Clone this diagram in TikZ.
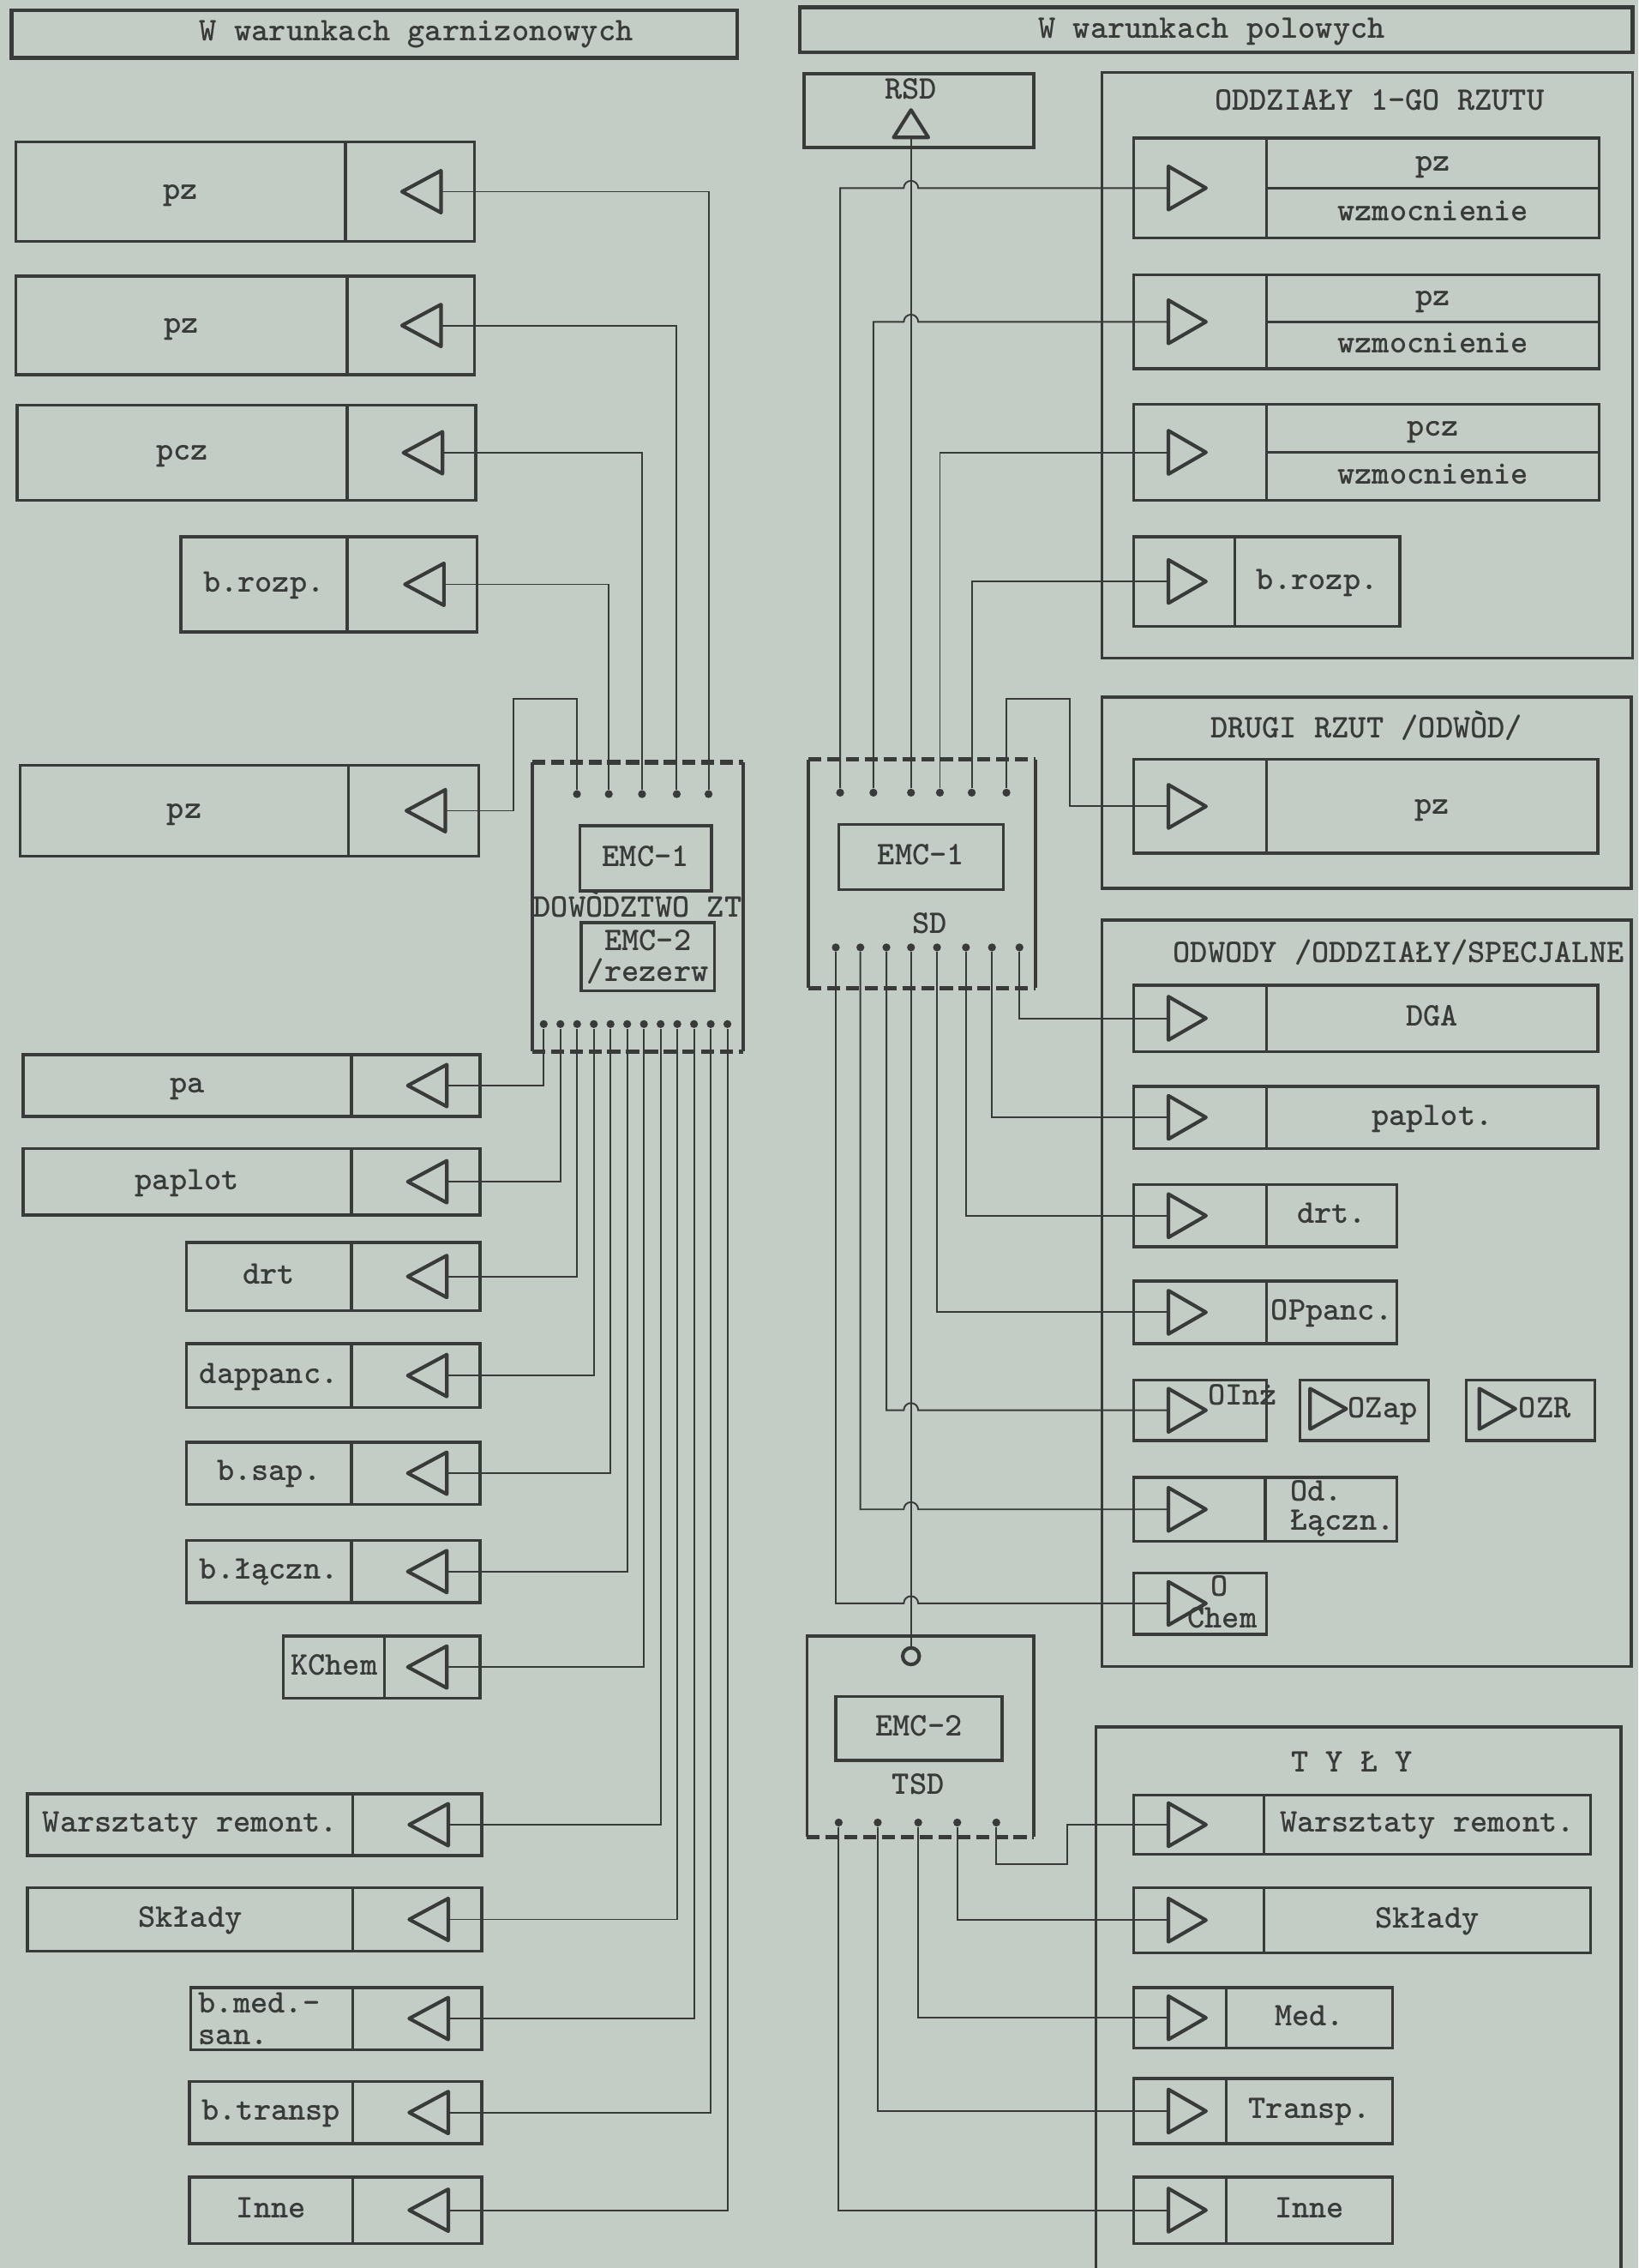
\documentclass[tikz,border=0pt]{standalone}
\usetikzlibrary{calc}
\definecolor{SchemPaper}{HTML}{C3CCC5}
\definecolor{SchemInk}{HTML}{383B39}
\newcommand{\lblfont}{\fontsize{13}{13}\selectfont\ttfamily\bfseries}
\tikzset{
  boxline/.style={draw=SchemInk,line width=1.2pt},
  wire/.style={draw=SchemInk,line width=0.65pt},
  tri/.style={draw=SchemInk,line width=1.4pt,line join=round},
  busedge/.style={draw=SchemInk,line width=1.7pt,dash pattern=on 1.8mm off 0.8mm},
  pin/.style={circle,fill=SchemInk,inner sep=0pt,minimum size=1.1mm},
  lbl/.style={text=SchemInk,font=\lblfont,inner sep=0pt,text height=8pt,text depth=2pt},
  lbltwo/.style={text=SchemInk,font=\lblfont,inner sep=0pt,align=left},
}
% left unit: name, x left, y top, y bottom, x divider, x right, label
\newcommand{\garbox}[7]{%
  \draw[boxline] (#2,#3) rectangle (#6,#4);
  \draw[boxline] (#5,#3) -- (#5,#4);
  \node[lbl] (#1-t) at ({(#2+#5)/2},{(#3+#4)/2}) {#7};
  \draw[tri] ({#6-50},{(#3+#4)/2}) -- ++(27,-14.5) -- ++(0,29) -- cycle;
  \coordinate (#1) at ({#6-23},{(#3+#4)/2});
}
% right unit: name, y top, y bottom, x divider, x right, label
\newcommand{\polbox}[6]{%
  \draw[boxline] (784,#2) rectangle (#5,#3);
  \draw[boxline] (#4,#2) -- (#4,#3);
  \node[lbl] (#1-t) at ({(#4+#5)/2},{(#2+#3)/2}) {#6};
  \draw[tri] (834,{(#2+#3)/2}) -- ++(-26,-15) -- ++(0,30) -- cycle;
  \coordinate (#1) at (808,{(#2+#3)/2});
}
% right unit with two rows
\newcommand{\polboxii}[5]{%
  \polbox{#1}{#2}{#3}{876}{1106}{}
  \draw[boxline] (876,{(#2+#3)/2}) -- (1106,{(#2+#3)/2});
  \node[lbl] (#1-a) at (991,{(3*#2+#3)/4}) {#4};
  \node[lbl] (#1-b) at (991,{(#2+3*#3)/4}) {#5};
}

\begin{document}
\begin{tikzpicture}[x=0.02cm,y=-0.02cm]
        \fill[SchemPaper] (0,0) rectangle (1133,1568);
        \useasboundingbox (0,0) rectangle (1133,1568);

        % headers
        \draw[boxline,line width=1.4pt] (8,7) rectangle (510,40);
        \node[lbl] (hdr-gar) at (288,23) {W warunkach garnizonowych};
        \draw[boxline,line width=1.4pt] (553,5) rectangle (1129,36);
        \node[lbl] (hdr-pol) at (838,21) {W warunkach polowych};

        % garrison side
        \garbox{g1}{11}{98}{167}{239}{328}{pz}
        \garbox{g2}{11}{191}{259}{240}{328}{pz}
        \garbox{g3}{12}{280}{346}{240}{329}{pcz}
        \garbox{g4}{125}{371}{437}{240}{330}{b.rozp.}
        \garbox{g5}{14}{529}{592}{241}{331}{pz}
        \garbox{g6}{16}{729}{772}{243}{332}{pa}
        \garbox{g7}{16}{794}{840}{243}{332}{paplot}
        \garbox{g8}{129}{859}{906}{243}{332}{drt}
        \garbox{g9}{129}{929}{973}{243}{332}{dappanc.}
        \garbox{g10}{129}{997}{1040}{243}{332}{b.sap.}
        \garbox{g11}{129}{1065}{1108}{243}{332}{b.łączn.}
        \garbox{g12}{196}{1131}{1174}{266}{332}{KChem}
        \garbox{g13}{19}{1240}{1283}{244}{333}{Warsztaty remont.}
        \garbox{g14}{19}{1305}{1349}{244}{333}{Składy}
        \garbox{g15}{132}{1374}{1417}{244}{333}{}
        \node[lbltwo,anchor=west] (g15-l) at (137,1395.5) {b.med.-\\[-0.2mm]san.};
        \garbox{g16}{131}{1439}{1482}{244}{333}{b.transp}
        \garbox{g17}{131}{1505}{1551}{244}{333}{Inne}

        % DOWODZTWO ZT
        \draw[boxline] (368,527) -- (368,727);
        \draw[boxline] (514,527) -- (514,727);
        \draw[busedge] (368,527) -- (514,527);
        \draw[busedge] (368,727) -- (514,727);
        \draw[boxline] (401,571) rectangle (492,616);
        \node[lbl] (dz-emc1) at (446.5,593.5) {EMC-1};
        \node[lbl] (dz-t) at (441,629) {DOWÒDZTWO ZT};
        \draw[boxline] (402,638) rectangle (494,685);
        \node[lbltwo,align=center] (dz-emc2) at (448,661.5) {EMC-2\\[-1pt]/rezerw};

        \foreach \k/\x in {1/399,2/421,3/444,4/468,5/490}
          \node[pin] (dzT\k) at (\x,549) {};
        \foreach \k/\src in {2/g4,3/g3,4/g2,5/g1}
          \draw[wire] (\src) -| (dzT\k);
        \draw[wire] (g5) -| (355,483) -| (dzT1);
        \foreach \k/\src in {1/g6,2/g7,3/g8,4/g9,5/g10,6/g11,7/g12,8/g13,9/g14,10/g15,11/g16,12/g17}{
          \node[pin] (dzB\k) at ({376+11.55*(\k-1)},708) {};
          \draw[wire] (\src) -| (dzB\k);
        }

        % field side: frames
        \draw[boxline] (762,50) rectangle (1129,455);
        \node[lbl] (oddz-t) at (954,71) {ODDZIAŁY 1-GO RZUTU};
        \draw[boxline] (762,482) rectangle (1128,614);
        \node[lbl] (drugi-t) at (945,505) {DRUGI RZUT /ODWÒD/};
        \draw[boxline] (762,636) rectangle (1128,1152);
        \node[lbl,anchor=west] (odw-t) at (811,660) {ODWODY /ODDZIAŁY/SPECJALNE};
        \draw[boxline] (758,1568) -- (758,1194) -- (1121,1194) -- (1121,1568);
        \node[lbl] (tyly-t) at (935,1220) {T Y Ł Y};

        \polboxii{o1}{95.5}{164.5}{pz}{wzmocnienie}
        \polboxii{o2}{190}{255}{pz}{wzmocnienie}
        \polboxii{o3}{279.5}{346}{pcz}{wzmocnienie}
        \polbox{o4}{371}{433}{854}{968}{b.rozp.}
        \polbox{d1}{525}{590}{876}{1105}{pz}
        \polbox{s1}{681}{727}{876}{1105}{DGA}
        \polbox{s2}{751}{794}{876}{1105}{paplot.}
        \polbox{s3}{819}{862}{876}{966}{drt.}
        \polbox{s4}{885.5}{929}{876}{966}{OPpanc.}
        \draw[boxline] (784,954) rectangle (876,996);
        \draw[tri] (834,975) -- ++(-26,-15) -- ++(0,30) -- cycle;
        \coordinate (s5) at (808,975);
        \node[lbl,anchor=west] (s5-t) at (835,966) {OInż};
        \draw[boxline] (899,954) rectangle (988,996);
        \draw[tri] (931,974) -- ++(-25,-14) -- ++(0,28) -- cycle;
        \node[lbl,anchor=west] (ozap-t) at (932,975) {OZap};
        \draw[boxline] (1014,954) rectangle (1103,996);
        \draw[tri] (1048,974) -- ++(-25,-14) -- ++(0,28) -- cycle;
        \node[lbl,anchor=west] (ozr-t) at (1050,975) {OZR};
        \polbox{s6}{1021.5}{1065.5}{875}{966}{}
        \node[lbltwo,anchor=west] (s6-l) at (892,1043) {Od.\\[-0.6mm]Łączn.};
        \draw[boxline] (784,1087.5) rectangle (876,1130);
        \draw[tri] (834,1108.5) -- ++(-26,-15) -- ++(0,30) -- cycle;
        \coordinate (s7) at (808,1108.5);
        \node[lbl,anchor=west] (s7-a) at (837,1098) {O};
        \node[lbl,anchor=west] (s7-b) at (821,1120) {Chem};
        \polbox{t1}{1241}{1282}{874}{1100}{Warsztaty remont.}
        \polbox{t2}{1305}{1350}{874}{1100}{Składy}
        \polbox{t3}{1374}{1416}{848}{963}{Med.}
        \polbox{t4}{1437}{1482}{848}{963}{Transp.}
        \polbox{t5}{1505}{1551}{848}{963}{Inne}

        % RSD
        \draw[boxline] (556,51) rectangle (715,102);
        \node[lbl] (rsd-t) at (630,63) {RSD};
        \draw[tri] (630,76) -- (618,95) -- (642,95) -- cycle;
        \coordinate (rsd) at (630,95);
        \coordinate (trunk) at (630,0);

        % SD
        \draw[boxline] (559,525) -- (559,683);
        \draw[boxline] (716,525) -- (716,683);
        \draw[busedge] (559,525) -- (716,525);
        \draw[busedge] (559,683) -- (716,683);
        \draw[boxline] (580,570) rectangle (694,615);
        \node[lbl] (sd-emc1) at (637,592.5) {EMC-1};
        \node[lbl] (sd-t) at (643,640) {SD};
        \foreach \k/\x in {1/581,2/604,3/630,4/650,5/672,6/696}
          \node[pin] (sdT\k) at (\x,548) {};
        \foreach \k/\x in {1/578,2/595,3/613,4/630,5/648,6/668,7/686,8/705}
          \node[pin] (sdB\k) at (\x,655) {};

        % TSD
        \draw[boxline] (558,1270) -- (558,1131) -- (715,1131) -- (715,1270);
        \draw[busedge] (558,1270) -- (715,1270);
        \node[circle,draw=SchemInk,line width=1.4pt,minimum size=2.3mm,inner sep=0pt] (tsdc) at (630,1145) {};
        \draw[boxline] (578,1173) rectangle (693,1217);
        \node[lbl] (tsd-emc2) at (635.5,1195) {EMC-2};
        \node[lbl] (tsd-t) at (635,1235) {TSD};
        \foreach \k/\x in {1/580,2/607,3/635,4/662,5/689}
          \node[pin] (tsdB\k) at (\x,1260) {};

        % field wiring
        \draw[wire] (sdT3) -- (rsd);
        \draw[wire] (sdB4) -- (tsdc);
        \foreach \p/\dst in {sdT1/o1,sdT2/o2,sdB1/s7,sdB2/s6,sdB3/s5}
          \draw[wire] (\p) |- ($(trunk |- \dst)+(-5,0)$)
            arc[start angle=180,end angle=0,radius=1mm] -- (\dst);
        \foreach \p/\dst in {sdT4/o3,sdT5/o4,sdB5/s4,sdB6/s3,sdB7/s2,sdB8/s1,tsdB1/t5,tsdB2/t4,tsdB3/t3,tsdB4/t2}
          \draw[wire] (\p) |- (\dst);
        \draw[wire] (sdT6) |- (740,483) |- (d1);
        \draw[wire] (tsdB5) |- (738,1289) |- (t1);
\end{tikzpicture}
\end{document}
